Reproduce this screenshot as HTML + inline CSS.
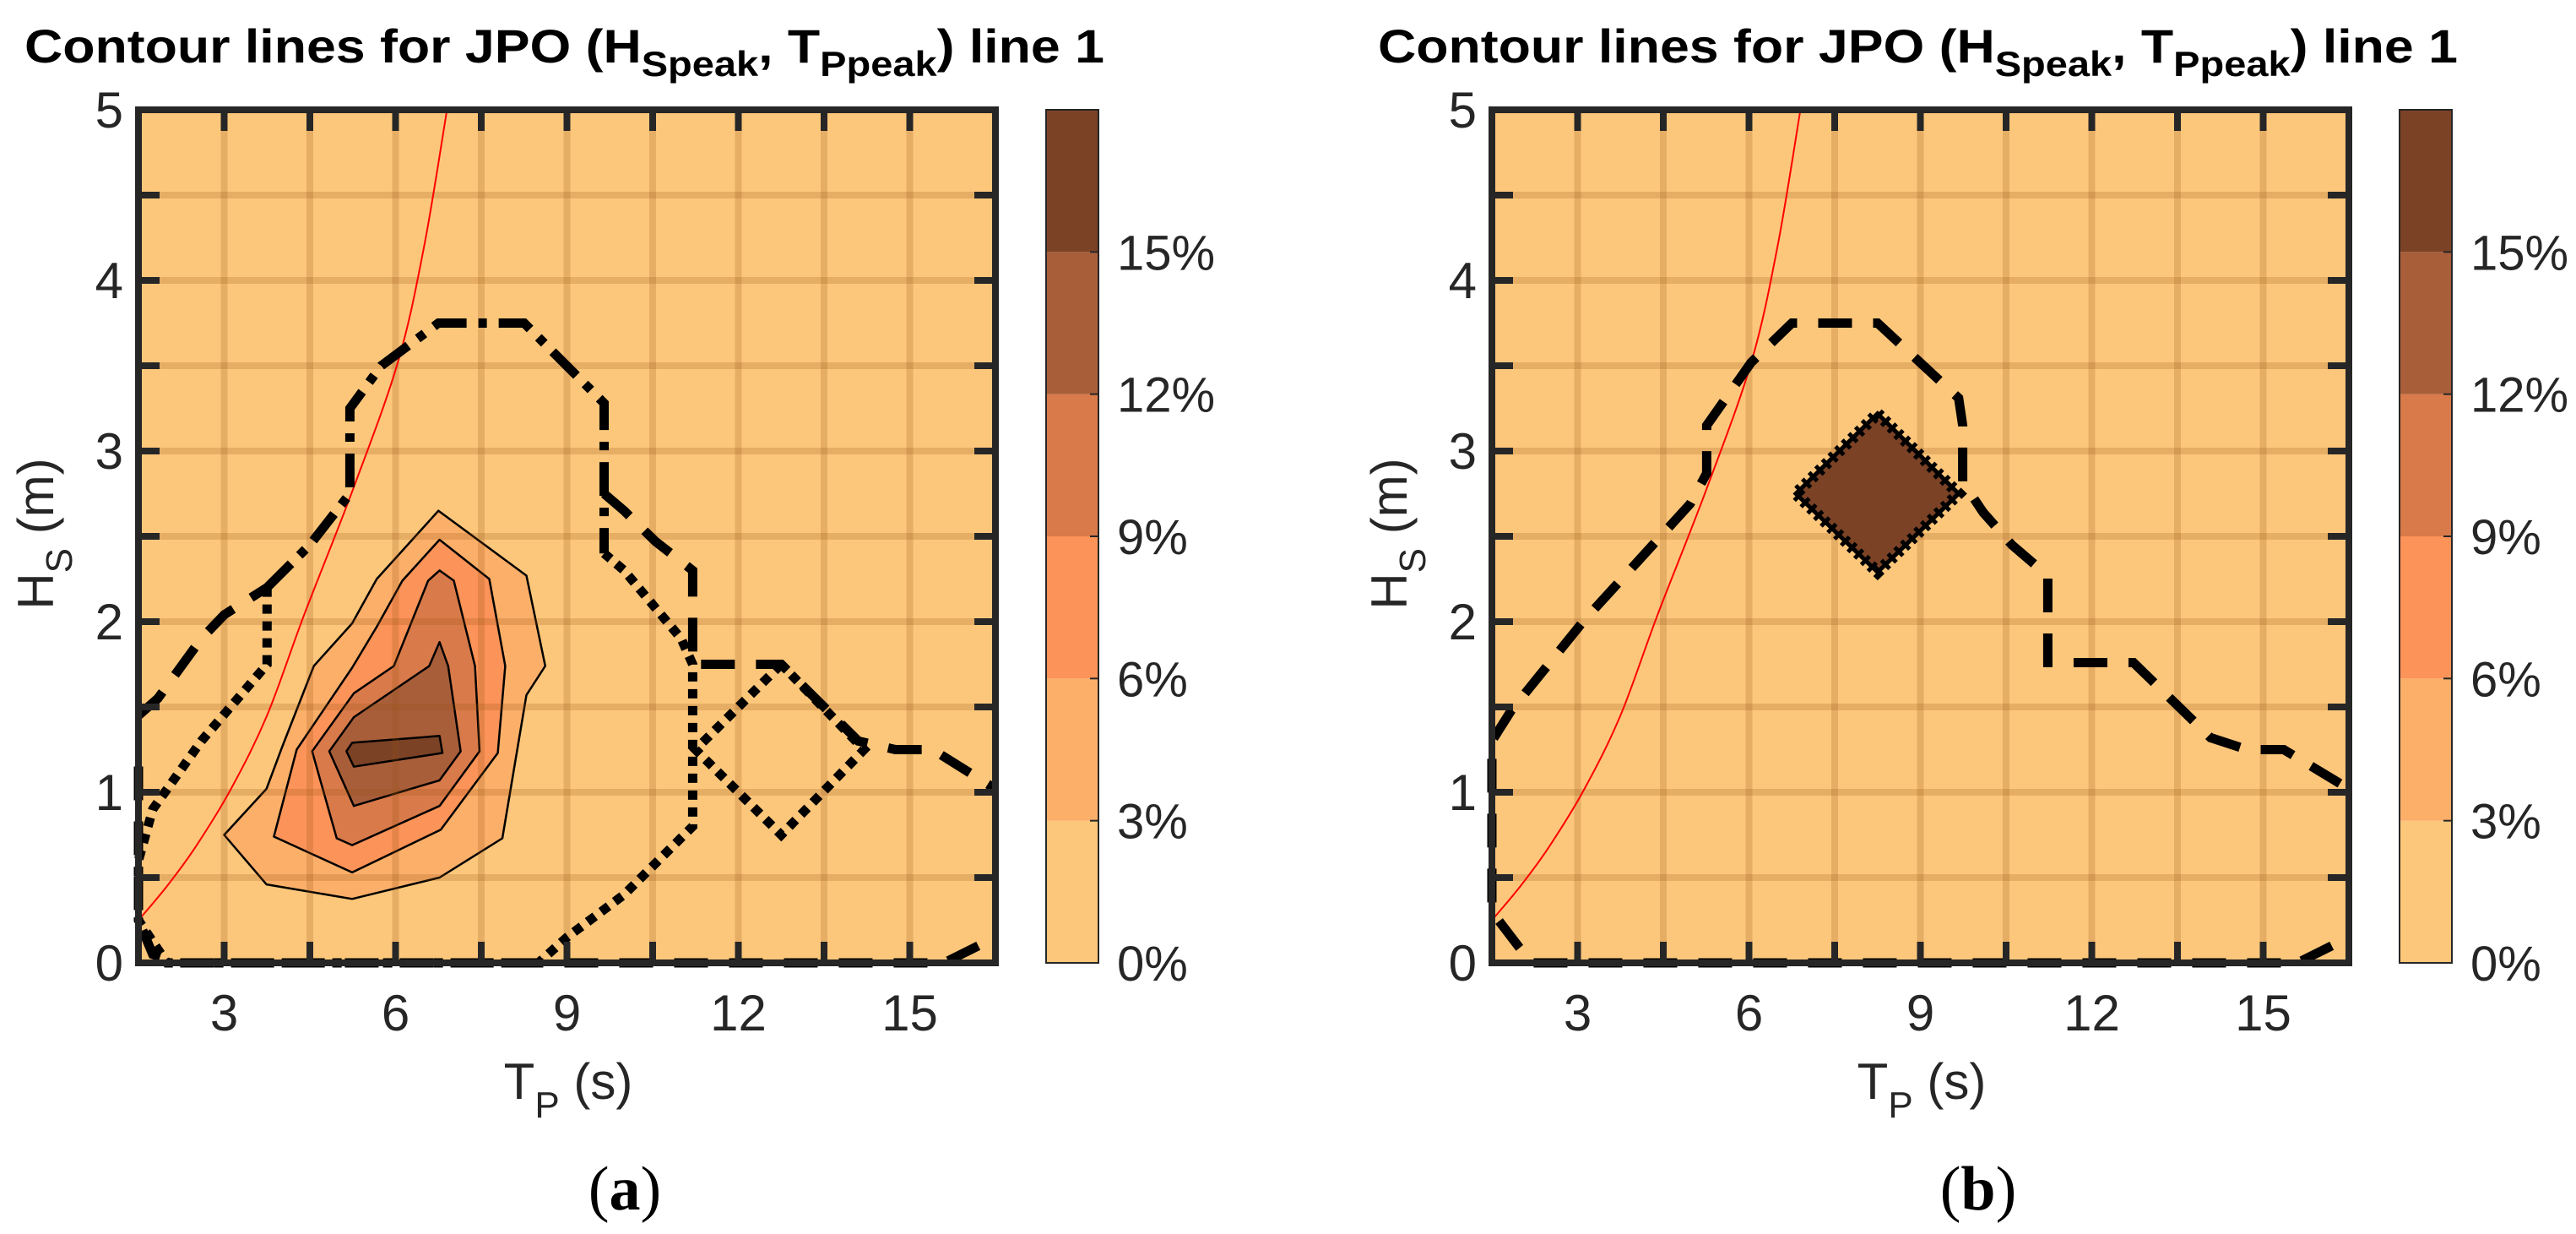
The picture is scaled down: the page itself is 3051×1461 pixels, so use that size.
<!DOCTYPE html>
<html><head><meta charset="utf-8"><style>
html,body{margin:0;padding:0;background:#fff;}
svg{display:block;}
text{font-family:"Liberation Sans",sans-serif;}
</style></head><body>
<svg id="fig" width="3051" height="1461" viewBox="0 0 3051 1461" xmlns="http://www.w3.org/2000/svg"></svg>
<script>
// ---- data ----
const xTicks = [3, 6, 9, 12, 15];
const yTicks = [0, 1, 2, 3, 4, 5];
const xGrid = [3, 4.5, 6, 7.5, 9, 10.5, 12, 13.5, 15];
const yGrid = [0.5, 1, 1.5, 2, 2.5, 3, 3.5, 4, 4.5];
const cbLevels = [0, 3, 6, 9, 12, 15, 18];
const cbLabels = ["0%", "3%", "6%", "9%", "12%", "15%"];
const cbColors = ["#FDC77B", "#FBAF69", "#FC9358", "#D97A4A", "#A95E3A", "#7B4226"];
// panel (a) filled contours (levels 3,6,9,12,15 %)
const c3X = [6.75, 8.29, 8.62, 8.29, 7.87, 6.77, 5.24, 3.74, 3.0, 3.74, 4.02, 4.57, 5.24, 5.67];
const c3Y = [2.65, 2.27, 1.74, 1.57, 0.73, 0.5, 0.375, 0.46, 0.75, 1.02, 1.27, 1.74, 1.99, 2.25];
const c6X = [6.77, 7.64, 7.92, 7.79, 6.79, 5.24, 3.87, 4.27, 5.24, 5.67, 6.12];
const c6Y = [2.48, 2.25, 1.74, 1.23, 0.78, 0.53, 0.74, 1.25, 1.73, 1.97, 2.24];
const c9X = [6.77, 7.02, 7.39, 7.47, 6.77, 5.24, 4.97, 4.54, 5.27, 5.97, 6.57];
const c9Y = [2.3, 2.24, 1.74, 1.24, 0.92, 0.69, 0.73, 1.24, 1.58, 1.74, 2.24];
const c12X = [6.77, 6.92, 7.14, 6.77, 5.27, 4.84, 5.27, 6.59];
const c12Y = [1.88, 1.74, 1.24, 1.07, 0.92, 1.24, 1.44, 1.74];
const c15X = [5.24, 6.77, 6.82, 5.27, 5.14];
const c15Y = [1.29, 1.33, 1.23, 1.15, 1.24];
// JPO contour lines (panel a)
const dashDotX = [3.75, 4.5, 5.2, 5.2, 5.75, 6.75, 8.25, 9.65, 9.65];
const dashDotY = [2.2, 2.45, 2.75, 3.25, 3.5, 3.75, 3.75, 3.28, 2.4];
const dottedX = [3.75, 3.75, 2.6, 1.75, 1.5, 1.5, 2.0, 8.5, 9.0, 10.0, 10.75, 11.2, 11.2, 11.0, 10.0, 9.65];
const dottedY = [2.2, 1.75, 1.3, 0.9, 0.6, 0.25, 0.0, 0.0, 0.15, 0.4, 0.65, 0.8, 1.75, 1.9, 2.3, 2.4];
const dashAX = [1.5, 1.84, 2.6, 3.0, 3.75];
const dashAY = [1.45, 1.55, 1.9, 2.04, 2.2];
const dashA2X = [9.65, 10.0, 10.55, 11.2, 11.2, 12.75, 14.1, 14.75, 15.4, 16.5];
const dashA2Y = [2.75, 2.65, 2.47, 2.3, 1.75, 1.75, 1.3, 1.25, 1.25, 1.02];
const dashBottomX = [16.2, 15.6, 2.2, 1.75, 1.5, 1.5];
const dashBottomY = [0.1, 0.0, 0.0, 0.05, 0.25, 1.25];
const diamondAX = [12.75, 11.25, 12.75, 14.2, 12.75];
const diamondAY = [1.75, 1.25, 0.75, 1.25, 1.75];
// panel (b) dashed contour
const dashBX = [16.2, 15.6, 2.2, 1.98, 1.5, 1.5, 1.84, 3.12, 4.97, 5.26, 5.26, 6.04, 6.75, 8.25, 9.67, 9.74, 9.74, 10.1, 10.6, 11.23, 11.23, 12.73, 14.08, 14.72, 15.36, 16.5];
const dashBY = [0.1, 0.0, 0.0, 0.09, 0.3, 1.3, 1.48, 2.01, 2.69, 2.87, 3.15, 3.52, 3.75, 3.75, 3.31, 3.15, 2.82, 2.64, 2.45, 2.27, 1.76, 1.76, 1.32, 1.25, 1.25, 1.02];
const diamondBX = [8.25, 9.67, 8.25, 6.82];
const diamondBY = [3.22, 2.75, 2.29, 2.75];
// red steepness curve
const redX = [1.5, 2.0, 2.5, 3.12, 3.75, 4.4, 5.26, 6.04, 6.5, 6.9];
const redY = [0.25, 0.45, 0.68, 1.02, 1.45, 2.04, 2.78, 3.52, 4.2, 5.0];

// ---- drawing ----
const NS = "http://www.w3.org/2000/svg";
const svg = document.getElementById("fig");
function mk(tag, attrs, parent) {
  const e = document.createElementNS(NS, tag);
  for (const k in attrs) e.setAttribute(k, attrs[k]);
  (parent || svg).appendChild(e);
  return e;
}
const T = 130, B = 1140, W = 1015;
function panel(offset, which) {
  const L = 164 + offset, R = L + W;
  const sx = v => L + (v - 1.5) / 15 * W;
  const sy = v => B - v / 5 * (B - T);
  const pts = (xs, ys) => xs.map((x, i) => sx(x).toFixed(1) + "," + sy(ys[i]).toFixed(1)).join(" ");
  const g = mk("g", {});
  
  
  const bg = mk("rect", {x: L, y: T, width: W, height: B - T, fill: cbColors[0]}, g);
  
  
  if (which === "a") {
    const fills = [[c3X, c3Y, 1], [c6X, c6Y, 2], [c9X, c9Y, 3], [c12X, c12Y, 4], [c15X, c15Y, 5]];
    fills.forEach((f, i) => {
      const p = mk("polygon", {points: pts(f[0], f[1]), fill: cbColors[f[2]], stroke: "#000", "stroke-width": 2.5, "stroke-linejoin": "round"}, g);
      
      
    });
  }
  xGrid.forEach(v => {
    const l = mk("line", {x1: sx(v), x2: sx(v), y1: T, y2: B, stroke: "rgba(150,80,20,0.22)", "stroke-width": 8}, g);
    
    
  });
  yGrid.forEach(v => {
    const l = mk("line", {x1: L, x2: R, y1: sy(v), y2: sy(v), stroke: "rgba(150,80,20,0.22)", "stroke-width": 8}, g);
    
    
  });
  let d = "M" + sx(redX[0]) + "," + sy(redY[0]);
  for (let i = 1; i < redX.length; i++) {
    const p0 = [sx(redX[Math.max(0, i - 2)]), sy(redY[Math.max(0, i - 2)])];
    const p1 = [sx(redX[i - 1]), sy(redY[i - 1])];
    const p2 = [sx(redX[i]), sy(redY[i])];
    const p3 = [sx(redX[Math.min(redX.length - 1, i + 1)]), sy(redY[Math.min(redX.length - 1, i + 1)])];
    d += " C" + (p1[0] + (p2[0] - p0[0]) / 6) + "," + (p1[1] + (p2[1] - p0[1]) / 6) + " " + (p2[0] - (p3[0] - p1[0]) / 6) + "," + (p2[1] - (p3[1] - p1[1]) / 6) + " " + p2[0] + "," + p2[1];
  }
  const red = mk("path", {d: d, fill: "none", stroke: "#FF0000", "stroke-width": 2}, g);
  
  
  const line = (xs, ys, dash, name, w) => {
    const p = mk("polyline", {points: pts(xs, ys), fill: "none", stroke: "#000", "stroke-width": w || 11, "stroke-dasharray": dash}, g);
    
    
  };
  if (which === "a") {
    line(dashDotX, dashDotY, "40 14 10 14", "jpo-contour-dashdot");
    line(dottedX, dottedY, "11 9", "jpo-contour-dotted");
    line(dashAX, dashAY, "40 25", "jpo-contour-dashed-left");
    line(dashA2X, dashA2Y, "40 25", "jpo-contour-dashed-right");
    line(dashBottomX, dashBottomY, "40 25", "jpo-contour-dashed-bottom");
    line(diamondAX, diamondAY, "11 9", "jpo-diamond-dotted");
  } else {
    const dm = mk("polygon", {points: pts(diamondBX, diamondBY), fill: cbColors[5], stroke: "#000", "stroke-width": 5}, g);
    
    
    const dm2 = mk("polygon", {points: pts(diamondBX, diamondBY), fill: "none", stroke: "#000", "stroke-width": 14, "stroke-dasharray": "5 6"}, g);
    
    
    line(dashBX, dashBY, "40 25", "jpo-contour-dashed");
  }
  xGrid.forEach(v => {
    [[B, B - 25], [T, T + 25]].forEach(yy => {
      const t = mk("line", {x1: sx(v), x2: sx(v), y1: yy[0], y2: yy[1], stroke: "#262626", "stroke-width": 8}, g);
      
      
    });
  });
  yGrid.forEach(v => {
    [[L, L + 25], [R, R - 25]].forEach(xx => {
      const t = mk("line", {x1: xx[0], x2: xx[1], y1: sy(v), y2: sy(v), stroke: "#262626", "stroke-width": 8}, g);
      
      
    });
  });
  const fr = mk("rect", {x: L, y: T, width: W, height: B - T, fill: "none", stroke: "#262626", "stroke-width": 8}, g);
  
  
  xTicks.forEach(v => {
    const t = mk("text", {x: sx(v), y: 1220, "font-size": 60, fill: "#262626", "text-anchor": "middle"}, g);
    t.textContent = v;
    
    
  });
  yTicks.forEach(v => {
    const t = mk("text", {x: L - 18, y: sy(v) + 21, "font-size": 60, fill: "#262626", "text-anchor": "end"}, g);
    t.textContent = v;
    
    
  });
  const xl = mk("text", {x: 673 + offset, y: 1301, "font-size": 60, fill: "#262626", "text-anchor": "middle"}, g);
  xl.innerHTML = 'T<tspan font-size="44" dy="22">P</tspan><tspan dy="-22"> (s)</tspan>';
  
  
  const yl = mk("text", {x: 0, y: 0, "font-size": 60, fill: "#262626", "text-anchor": "middle", transform: "translate(" + (63 + offset) + ",632) rotate(-90)"}, g);
  yl.innerHTML = 'H<tspan font-size="44" dy="22">S</tspan><tspan dy="-22"> (m)</tspan>';
  
  
  const tt = mk("text", {x: 29 + offset, y: 74, "font-size": 56, "font-weight": "bold", fill: "#000", textLength: 1279, lengthAdjust: "spacingAndGlyphs"}, g);
  tt.innerHTML = 'Contour lines for JPO (H<tspan font-size="42" dy="16">Speak</tspan><tspan dy="-16">, T</tspan><tspan font-size="42" dy="16">Ppeak</tspan><tspan dy="-16">) line 1</tspan>';
  
  
  const cbL = 1239 + offset, cbW = 62;
  const cy = v => B - v / 18 * (B - T);
  cbColors.forEach((c, i) => {
    const r = mk("rect", {x: cbL, y: cy(cbLevels[i + 1]), width: cbW, height: cy(cbLevels[i]) - cy(cbLevels[i + 1]), fill: c}, g);
    
    
  });
  cbLabels.forEach((lab, i) => {
    const tk = mk("line", {x1: cbL + cbW - 10, x2: cbL + cbW, y1: cy(cbLevels[i]), y2: cy(cbLevels[i]), stroke: "#262626", "stroke-width": 2}, g);
    
    
    const t = mk("text", {x: cbL + cbW + 22, y: cy(cbLevels[i]) + 21, "font-size": 58, fill: "#262626"}, g);
    t.textContent = lab;
    
    
  });
  const cbf = mk("rect", {x: cbL, y: T, width: cbW, height: B - T, fill: "none", stroke: "#262626", "stroke-width": 2}, g);
  
  
  const pl = mk("text", {x: 740 + offset, y: 1432, "font-size": 74, fill: "#000", "text-anchor": "middle", style: "font-family:'Liberation Serif',serif"}, g);
  pl.innerHTML = '(<tspan font-weight="bold">' + which + '</tspan>)';
  
  
}
panel(0, "a");
panel(1603, "b");
</script>
</body></html>
